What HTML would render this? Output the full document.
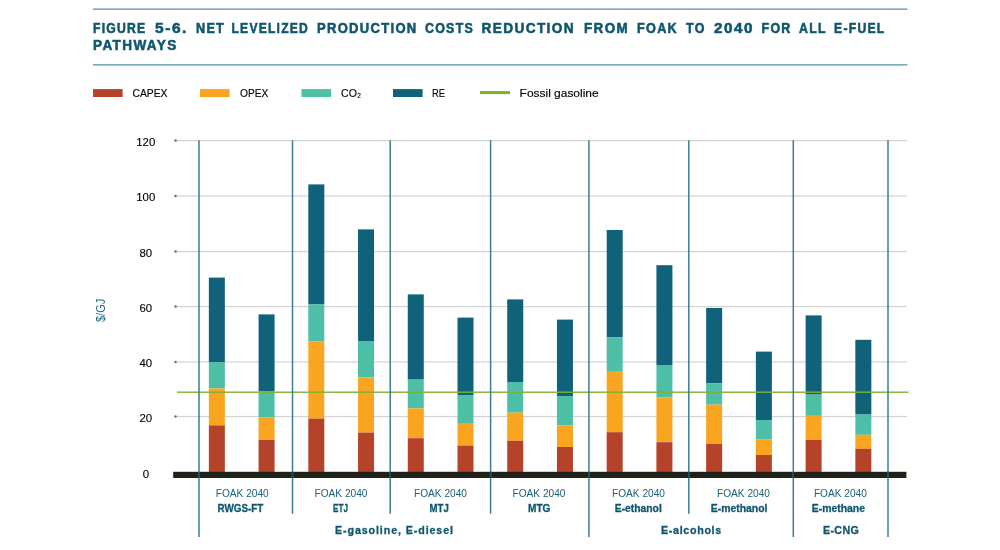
<!DOCTYPE html>
<html lang="en"><head><meta charset="utf-8"><title>Figure 5-6</title>
<style>
html,body{margin:0;padding:0;background:#fff;}
body{width:1000px;height:550px;overflow:hidden;}
svg{display:block;}
text{font-family:"Liberation Sans",sans-serif;}
.title{font-weight:bold;font-size:13.8px;letter-spacing:1.4px;fill:#0f566e;stroke:#0f566e;stroke-width:0.55px;}
.leg{font-size:11.8px;fill:#000;stroke:#000;stroke-width:0.15px;}
.yl{font-size:11.4px;fill:#000;stroke:#000;stroke-width:0.12px;text-anchor:middle;}
.fk{font-size:10.6px;fill:#1d6178;}
.nm{font-size:10.8px;font-weight:bold;fill:#0f566e;stroke:#0f566e;stroke-width:0.3px;}
.grp{font-size:10.7px;font-weight:bold;fill:#0f566e;letter-spacing:1px;stroke:#0f566e;stroke-width:0.3px;}
</style></head><body>
<svg width="1000" height="550" viewBox="0 0 1000 550">
<rect width="1000" height="550" fill="#fff"/>

<rect x="93" y="8.5" width="814.5" height="1.2" fill="#4a8da3"/>
<rect x="93" y="64.3" width="814.5" height="1.2" fill="#4a8da3"/>
<text class="title" y="32.7"><tspan x="93" textLength="53.5" lengthAdjust="spacingAndGlyphs">FIGURE</tspan> <tspan x="155" textLength="33.0" lengthAdjust="spacingAndGlyphs">5-6.</tspan> <tspan x="196" textLength="29.1" lengthAdjust="spacingAndGlyphs">NET</tspan> <tspan x="231.5" textLength="77.5" lengthAdjust="spacingAndGlyphs">LEVELIZED</tspan> <tspan x="317" textLength="100.5" lengthAdjust="spacingAndGlyphs">PRODUCTION</tspan> <tspan x="425" textLength="49.0" lengthAdjust="spacingAndGlyphs">COSTS</tspan> <tspan x="481.5" textLength="93.5" lengthAdjust="spacingAndGlyphs">REDUCTION</tspan> <tspan x="584" textLength="45.0" lengthAdjust="spacingAndGlyphs">FROM</tspan> <tspan x="637" textLength="41.0" lengthAdjust="spacingAndGlyphs">FOAK</tspan> <tspan x="686" textLength="19.6" lengthAdjust="spacingAndGlyphs">TO</tspan> <tspan x="714" textLength="40.0" lengthAdjust="spacingAndGlyphs">2040</tspan> <tspan x="761.5" textLength="30.1" lengthAdjust="spacingAndGlyphs">FOR</tspan> <tspan x="799" textLength="27.6" lengthAdjust="spacingAndGlyphs">ALL</tspan> <tspan x="834" textLength="51.5" lengthAdjust="spacingAndGlyphs">E-FUEL</tspan></text>
<text class="title" x="93" y="50.2" textLength="84.6" lengthAdjust="spacingAndGlyphs">PATHWAYS</text>
<rect x="93" y="89.1" width="29.6" height="7.9" fill="#b5432a"/>
<text class="leg" x="132.5" y="97.4" textLength="35" lengthAdjust="spacingAndGlyphs">CAPEX</text>
<rect x="200" y="89.1" width="29.6" height="7.9" fill="#f9a51f"/>
<text class="leg" x="240" y="97.4" textLength="28.3" lengthAdjust="spacingAndGlyphs">OPEX</text>
<rect x="301.5" y="89.1" width="29.6" height="7.9" fill="#4dbfa6"/>
<text class="leg" x="341" y="97.4" textLength="20" lengthAdjust="spacingAndGlyphs">CO₂</text>
<rect x="393" y="89.1" width="29.6" height="7.9" fill="#10617a"/>
<text class="leg" x="432" y="97.4" textLength="13" lengthAdjust="spacingAndGlyphs">RE</text>
<rect x="480" y="91.1" width="30" height="3" fill="#7fb02c"/>
<text class="leg" x="519.6" y="97.4" textLength="79" lengthAdjust="spacingAndGlyphs">Fossil gasoline</text>
<text transform="translate(104.6,322) rotate(-90)" textLength="23.2" lengthAdjust="spacingAndGlyphs" style="font-size:12.1px;fill:#1b6c81">$/GJ</text>
<text class="yl" x="145.8" y="477.50">0</text>
<rect x="176" y="415.90" width="731" height="1.2" fill="#d2d2d2"/>
<circle cx="175.5" cy="416.50" r="1.25" fill="#6e6e6e"/>
<text class="yl" x="145.8" y="421.80">20</text>
<rect x="176" y="361.30" width="731" height="1.2" fill="#d2d2d2"/>
<circle cx="175.5" cy="361.90" r="1.25" fill="#6e6e6e"/>
<text class="yl" x="145.8" y="367.20">40</text>
<rect x="176" y="306.00" width="731" height="1.2" fill="#d2d2d2"/>
<circle cx="175.5" cy="306.60" r="1.25" fill="#6e6e6e"/>
<text class="yl" x="145.8" y="311.90">60</text>
<rect x="176" y="251.00" width="731" height="1.2" fill="#d2d2d2"/>
<circle cx="175.5" cy="251.60" r="1.25" fill="#6e6e6e"/>
<text class="yl" x="145.8" y="256.90">80</text>
<rect x="176" y="195.40" width="731" height="1.2" fill="#d2d2d2"/>
<circle cx="175.5" cy="196.00" r="1.25" fill="#6e6e6e"/>
<text class="yl" x="145.8" y="201.30">100</text>
<rect x="176" y="140.00" width="731" height="1.2" fill="#d2d2d2"/>
<circle cx="175.5" cy="140.60" r="1.25" fill="#6e6e6e"/>
<text class="yl" x="145.8" y="145.90">120</text>
<rect x="208.85" y="277.6" width="16.0" height="84.80" fill="#10617a"/>
<rect x="208.85" y="362.4" width="16.0" height="26.00" fill="#4dbfa6"/>
<rect x="208.85" y="388.4" width="16.0" height="37.00" fill="#f9a51f"/>
<rect x="208.85" y="425.4" width="16.0" height="47.10" fill="#b5432a"/>
<rect x="258.58" y="314.4" width="16.0" height="76.60" fill="#10617a"/>
<rect x="258.58" y="391.0" width="16.0" height="26.40" fill="#4dbfa6"/>
<rect x="258.58" y="417.4" width="16.0" height="22.60" fill="#f9a51f"/>
<rect x="258.58" y="440.0" width="16.0" height="32.50" fill="#b5432a"/>
<rect x="308.31" y="184.4" width="16.0" height="120.00" fill="#10617a"/>
<rect x="308.31" y="304.4" width="16.0" height="37.00" fill="#4dbfa6"/>
<rect x="308.31" y="341.4" width="16.0" height="77.20" fill="#f9a51f"/>
<rect x="308.31" y="418.6" width="16.0" height="53.90" fill="#b5432a"/>
<rect x="358.04" y="229.4" width="16.0" height="111.60" fill="#10617a"/>
<rect x="358.04" y="341.0" width="16.0" height="36.30" fill="#4dbfa6"/>
<rect x="358.04" y="377.3" width="16.0" height="55.30" fill="#f9a51f"/>
<rect x="358.04" y="432.6" width="16.0" height="39.90" fill="#b5432a"/>
<rect x="407.77" y="294.4" width="16.0" height="85.20" fill="#10617a"/>
<rect x="407.77" y="379.6" width="16.0" height="28.80" fill="#4dbfa6"/>
<rect x="407.77" y="408.4" width="16.0" height="29.80" fill="#f9a51f"/>
<rect x="407.77" y="438.2" width="16.0" height="34.30" fill="#b5432a"/>
<rect x="457.50" y="317.6" width="16.0" height="77.40" fill="#10617a"/>
<rect x="457.50" y="395.0" width="16.0" height="28.00" fill="#4dbfa6"/>
<rect x="457.50" y="423.0" width="16.0" height="22.60" fill="#f9a51f"/>
<rect x="457.50" y="445.6" width="16.0" height="26.90" fill="#b5432a"/>
<rect x="507.23" y="299.4" width="16.0" height="82.60" fill="#10617a"/>
<rect x="507.23" y="382.0" width="16.0" height="30.60" fill="#4dbfa6"/>
<rect x="507.23" y="412.6" width="16.0" height="28.20" fill="#f9a51f"/>
<rect x="507.23" y="440.8" width="16.0" height="31.70" fill="#b5432a"/>
<rect x="556.96" y="319.6" width="16.0" height="76.40" fill="#10617a"/>
<rect x="556.96" y="396.0" width="16.0" height="29.40" fill="#4dbfa6"/>
<rect x="556.96" y="425.4" width="16.0" height="21.60" fill="#f9a51f"/>
<rect x="556.96" y="447.0" width="16.0" height="25.50" fill="#b5432a"/>
<rect x="606.69" y="230.0" width="16.0" height="107.20" fill="#10617a"/>
<rect x="606.69" y="337.2" width="16.0" height="33.80" fill="#4dbfa6"/>
<rect x="606.69" y="371.0" width="16.0" height="61.20" fill="#f9a51f"/>
<rect x="606.69" y="432.2" width="16.0" height="40.30" fill="#b5432a"/>
<rect x="656.42" y="265.2" width="16.0" height="99.80" fill="#10617a"/>
<rect x="656.42" y="365.0" width="16.0" height="32.60" fill="#4dbfa6"/>
<rect x="656.42" y="397.6" width="16.0" height="44.60" fill="#f9a51f"/>
<rect x="656.42" y="442.2" width="16.0" height="30.30" fill="#b5432a"/>
<rect x="706.15" y="308.0" width="16.0" height="75.40" fill="#10617a"/>
<rect x="706.15" y="383.4" width="16.0" height="21.20" fill="#4dbfa6"/>
<rect x="706.15" y="404.6" width="16.0" height="39.40" fill="#f9a51f"/>
<rect x="706.15" y="444.0" width="16.0" height="28.50" fill="#b5432a"/>
<rect x="755.88" y="351.6" width="16.0" height="68.40" fill="#10617a"/>
<rect x="755.88" y="420.0" width="16.0" height="19.60" fill="#4dbfa6"/>
<rect x="755.88" y="439.6" width="16.0" height="15.40" fill="#f9a51f"/>
<rect x="755.88" y="455.0" width="16.0" height="17.50" fill="#b5432a"/>
<rect x="805.61" y="315.4" width="16.0" height="79.20" fill="#10617a"/>
<rect x="805.61" y="394.6" width="16.0" height="21.20" fill="#4dbfa6"/>
<rect x="805.61" y="415.8" width="16.0" height="24.00" fill="#f9a51f"/>
<rect x="805.61" y="439.8" width="16.0" height="32.70" fill="#b5432a"/>
<rect x="855.34" y="339.8" width="16.0" height="74.80" fill="#10617a"/>
<rect x="855.34" y="414.6" width="16.0" height="20.20" fill="#4dbfa6"/>
<rect x="855.34" y="434.8" width="16.0" height="14.00" fill="#f9a51f"/>
<rect x="855.34" y="448.8" width="16.0" height="23.70" fill="#b5432a"/>
<rect x="173.2" y="471.8" width="733.2" height="6.2" fill="#1f2217"/>
<rect x="177" y="391.5" width="731.6" height="1.4" fill="#82b036"/>
<rect x="198.25" y="140.3" width="1.5" height="396.70" fill="#3b7e96"/>
<rect x="198.25" y="471.8" width="1.5" height="6.2" fill="#1d4856"/>
<rect x="291.75" y="140.3" width="1.5" height="373.50" fill="#3b7e96"/>
<rect x="291.75" y="471.8" width="1.5" height="6.2" fill="#1d4856"/>
<rect x="389.45" y="140.3" width="1.5" height="373.50" fill="#3b7e96"/>
<rect x="389.45" y="471.8" width="1.5" height="6.2" fill="#1d4856"/>
<rect x="489.85" y="140.3" width="1.5" height="373.50" fill="#3b7e96"/>
<rect x="489.85" y="471.8" width="1.5" height="6.2" fill="#1d4856"/>
<rect x="588.15" y="140.3" width="1.5" height="396.70" fill="#3b7e96"/>
<rect x="588.15" y="471.8" width="1.5" height="6.2" fill="#1d4856"/>
<rect x="688.05" y="140.3" width="1.5" height="373.50" fill="#3b7e96"/>
<rect x="688.05" y="471.8" width="1.5" height="6.2" fill="#1d4856"/>
<rect x="792.55" y="140.3" width="1.5" height="396.70" fill="#3b7e96"/>
<rect x="792.55" y="471.8" width="1.5" height="6.2" fill="#1d4856"/>
<rect x="887.25" y="140.3" width="1.5" height="396.70" fill="#3b7e96"/>
<rect x="887.25" y="471.8" width="1.5" height="6.2" fill="#1d4856"/>
<text class="fk" x="215.75" y="496.5" textLength="53" lengthAdjust="spacingAndGlyphs">FOAK 2040</text>
<text class="nm" x="217.5" y="511.5" textLength="45.75" lengthAdjust="spacingAndGlyphs">RWGS-FT</text>
<text class="fk" x="314.5" y="496.5" textLength="53" lengthAdjust="spacingAndGlyphs">FOAK 2040</text>
<text class="nm" x="333" y="511.5" textLength="15.00" lengthAdjust="spacingAndGlyphs">ETJ</text>
<text class="fk" x="414" y="496.5" textLength="53" lengthAdjust="spacingAndGlyphs">FOAK 2040</text>
<text class="nm" x="429.5" y="511.5" textLength="19.25" lengthAdjust="spacingAndGlyphs">MTJ</text>
<text class="fk" x="512.5" y="496.5" textLength="53" lengthAdjust="spacingAndGlyphs">FOAK 2040</text>
<text class="nm" x="528" y="511.5" textLength="22.50" lengthAdjust="spacingAndGlyphs">MTG</text>
<text class="fk" x="612" y="496.5" textLength="53" lengthAdjust="spacingAndGlyphs">FOAK 2040</text>
<text class="nm" x="614.75" y="511.5" textLength="47.00" lengthAdjust="spacingAndGlyphs">E-ethanol</text>
<text class="fk" x="717" y="496.5" textLength="53" lengthAdjust="spacingAndGlyphs">FOAK 2040</text>
<text class="nm" x="710.75" y="511.5" textLength="56.75" lengthAdjust="spacingAndGlyphs">E-methanol</text>
<text class="fk" x="813.9" y="496.5" textLength="53" lengthAdjust="spacingAndGlyphs">FOAK 2040</text>
<text class="nm" x="811.75" y="511.5" textLength="53.25" lengthAdjust="spacingAndGlyphs">E-methane</text>
<text class="grp" x="335" y="533.8" textLength="119" lengthAdjust="spacing">E-gasoline, E-diesel</text>
<text class="grp" x="661" y="533.8" textLength="61.2" lengthAdjust="spacing">E-alcohols</text>
<text class="grp" x="823" y="533.8" textLength="36.8" lengthAdjust="spacing">E-CNG</text>
</svg></body></html>
